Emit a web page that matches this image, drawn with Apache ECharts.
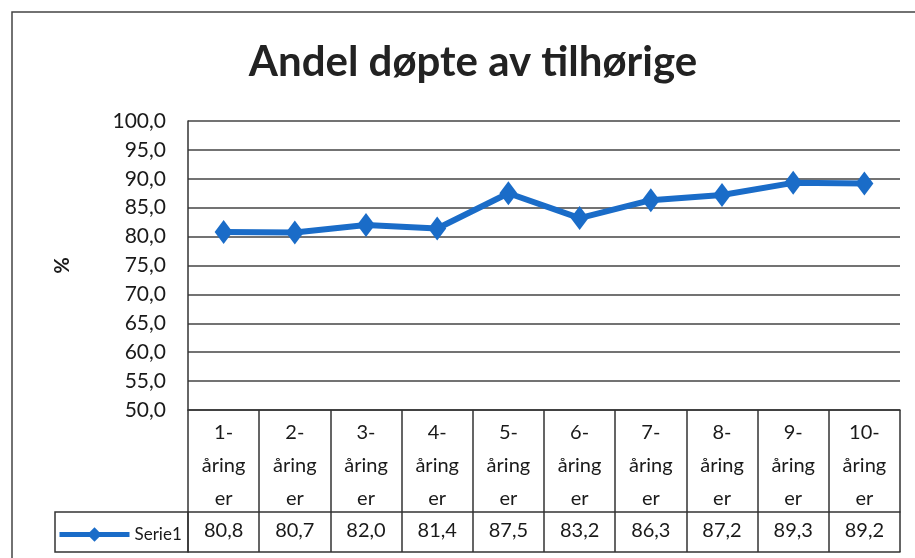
<!DOCTYPE html>
<html>
<head>
<meta charset="utf-8">
<script src="https://cdn.jsdelivr.net/npm/echarts@6/dist/echarts.min.js"></script>
<style>
  html, body { margin: 0; padding: 0; background: #fff; }
  #chart { width: 915px; height: 558px; }
</style>
</head>
<body>
<div id="chart"></div>
<script>
// kategorier og verdier
var categories = ['1-\nåring\ner', '2-\nåring\ner', '3-\nåring\ner', '4-\nåring\ner', '5-\nåring\ner',
                  '6-\nåring\ner', '7-\nåring\ner', '8-\nåring\ner', '9-\nåring\ner', '10-\nåring\ner'];
var values = [80.8, 80.7, 82.0, 81.4, 87.5, 83.2, 86.3, 87.2, 89.3, 89.2];
var seriesName = 'Serie1';
var yMin = 50, yMax = 100, yStep = 5;

function komma (v) { return v.toFixed(1).replace('.', ','); }

var myChart = echarts.init(document.getElementById('chart'));
var font = 'Lato, "Open Sans", sans-serif';
var lineCol = '#333';
var txtCol = '#1a1a1a';

var option = {
    animation: false,
    backgroundColor: '#fff',
    title: {
        text: 'Andel døpte av tilhørige',
        left: 468, top: 36, textAlign: 'center',
        textStyle: { fontFamily: font, fontSize: 42, fontWeight: 'bold', color: '#222' }
    },
    legend: {
        left: 52, top: 521,
        itemWidth: 70, itemHeight: 18, itemGap: 0,
        lineStyle: { width: 5 },
        textStyle: { fontFamily: font, fontSize: 17, color: txtCol },
        data: [seriesName]
    },
    grid: { left: 188, right: 15, top: 121, bottom: 148, containLabel: false },
    xAxis: [{
        type: 'category',
        data: categories,
        position: 'bottom',
        axisLine: { show: true, lineStyle: { color: lineCol, width: 1.5 } },
        axisTick: { show: true, length: 142, interval: 0, lineStyle: { color: lineCol, width: 1.5 } },
        axisLabel: { interval: 0, margin: 6, lineHeight: 33, fontFamily: font, fontSize: 20, color: txtCol },
        splitLine: { show: false }
    }, {
        type: 'category',
        data: values.map(komma),
        position: 'bottom',
        offset: 102,
        axisLine: { show: true, lineStyle: { color: lineCol, width: 1.5 } },
        axisTick: { show: false },
        axisLabel: { interval: 0, margin: 9, fontFamily: font, fontSize: 20, color: txtCol }
    }, {
        type: 'category',
        data: categories,
        position: 'bottom',
        offset: 142,
        axisLine: { show: true, lineStyle: { color: lineCol, width: 1.5 } },
        axisTick: { show: false },
        axisLabel: { show: false }
    }],
    yAxis: {
        type: 'value',
        min: yMin, max: yMax, interval: yStep,
        name: '%',
        nameLocation: 'middle',
        nameGap: 118,
        nameRotate: -90,
        nameTextStyle: { fontFamily: font, fontSize: 20, fontWeight: 'bold', color: txtCol },
        axisLine: { show: true, lineStyle: { color: lineCol, width: 1.5 } },
        axisTick: { show: false },
        axisLabel: { margin: 22, fontFamily: font, fontSize: 21, color: txtCol, formatter: komma },
        splitLine: { show: true, lineStyle: { color: '#444', width: 1.5 } }
    },
    series: [{
        name: seriesName,
        type: 'line',
        data: values,
        xAxisIndex: 0,
        symbol: 'diamond',
        symbolSize: [18, 24],
        itemStyle: { color: '#1a6cc8' },
        lineStyle: { color: '#1a6cc8', width: 6 }
    }],
    graphic: [{
        type: 'rect',
        shape: { x: 12, y: 12, width: 920, height: 570 },
        style: { fill: 'none', stroke: '#444', lineWidth: 1.5 },
        silent: true
    }, {
        type: 'rect',
        shape: { x: 55, y: 512, width: 133, height: 40 },
        style: { fill: 'none', stroke: lineCol, lineWidth: 1.5 },
        silent: true
    }]
};
myChart.setOption(option);
</script>
</body>
</html>
